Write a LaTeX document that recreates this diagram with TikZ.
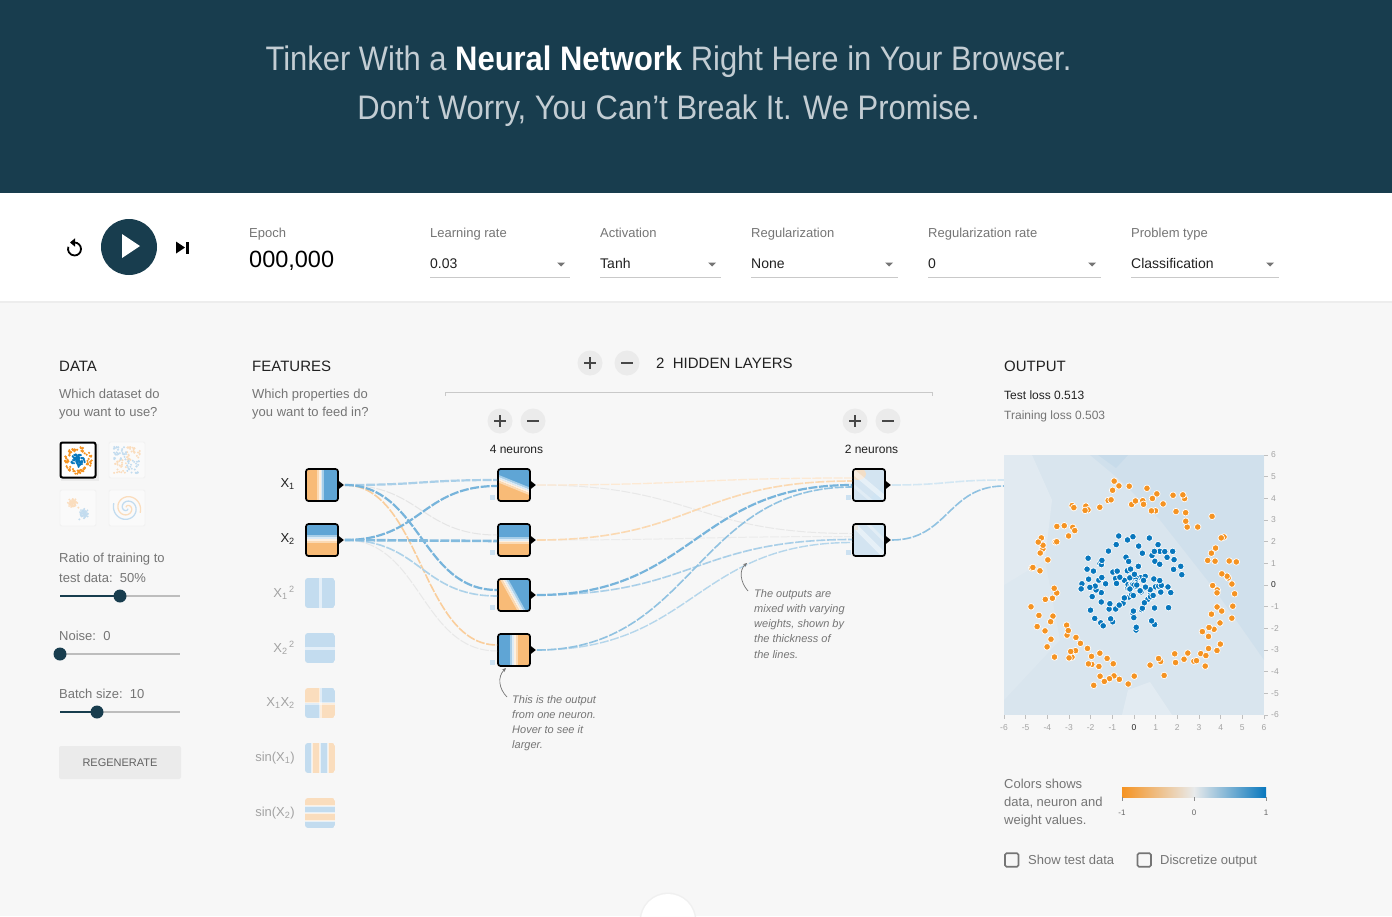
\documentclass[tikz,border=0pt]{standalone}
\usepackage{fontspec}
\setmainfont{Liberation Sans}
\newfontfamily\hdrfont[FakeStretch=0.91]{Liberation Sans}
\usetikzlibrary{arrows.meta}
\definecolor{hdrbg}{HTML}{183D4E}
\definecolor{hdrtxt}{HTML}{C3CDD3}
\definecolor{pagebg}{HTML}{F7F7F7}
\definecolor{tdark}{HTML}{212121}
\definecolor{tgrey}{HTML}{757575}
\definecolor{tfaint}{HTML}{A3A3A3}
\definecolor{trk}{HTML}{BDBDBD}
\definecolor{uline}{HTML}{C9C9C9}
\definecolor{btn}{HTML}{EBEBEB}
\definecolor{dor}{HTML}{F59322}
\definecolor{dbl}{HTML}{0877BD}
\definecolor{nor}{HTML}{F8BB77}
\definecolor{nbl}{HTML}{5FA5D5}
\definecolor{por}{HTML}{FADDBD}
\definecolor{pbl}{HTML}{C3DCEF}
\definecolor{plotbg}{HTML}{D9E5EE}
\definecolor{hid}{HTML}{D3E4F1}
\definecolor{midc}{HTML}{E8EAEB}

\newcommand\fsz[1]{\fontsize{#1}{#1}\selectfont}
% cx, cy, angle (visual ccw), offset, colour on upper side, colour on lower side
\newcommand\bandbox[6]{%
  \begin{scope}
    \clip[rounded corners=2.5pt] ({#1-16},{#2-16}) rectangle ({#1+16},{#2+16});
    \begin{scope}[shift={(#1,#2)},rotate=#3,shift={(0,#4)}]
      \fill[#5] (-40,-40) rectangle (40,0);
      \fill[#6] (-40,0) rectangle (40,40);
      \fill[#5!55!white] (-40,-3.6) rectangle (40,-1.8);
      \fill[#5!22!white] (-40,-1.8) rectangle (40,0);
      \fill[#6!22!white] (-40,0) rectangle (40,1.8);
      \fill[#6!55!white] (-40,1.8) rectangle (40,3.6);
    \end{scope}
  \end{scope}}
\newcommand\outtri[1]{\fill[black] (#1.east) ++(0,-4) -- ++(5,4) -- ++(-5,4) -- cycle;}
\newcommand\lnk[5]{\draw[link,draw=#1,line width=#2pt] #3 .. controls +(#4,0) and +(-#4,0) .. #5;}

\tikzset{
  txt/.style={inner sep=0pt, anchor=base west},
  neuron/.style={draw=black, line width=1.7pt, rounded corners=2.5pt, minimum size=32pt, inner sep=0pt},
  feat/.style={minimum size=30pt, inner sep=0pt},
  link/.style={dash pattern=on 9pt off 1.6pt},
  pm/.style={circle, fill=btn, minimum size=25pt, inner sep=0pt},
  pmline/.style={draw=black!72, line width=1.6pt},
  knob/.style={circle, fill=hdrbg, minimum size=13pt, inner sep=0pt},
  thumb/.style={draw=black!5, line width=0.8pt, fill=black!2, rounded corners=2pt, minimum size=36pt, inner sep=0pt},
  bias/.style={fill=pbl!85!white, minimum size=5pt, inner sep=0pt},
  annot/.style={txt, font={\fsz{11}\itshape}, text=tgrey},
  arr/.style={draw=tgrey, line width=0.7pt, -{Stealth[length=4pt,width=3.5pt]}},
  dot/.style={draw=white, line width=0.7pt},
}

\begin{document}
\begin{tikzpicture}[x=1pt,y=-1pt]
\useasboundingbox (0,0) rectangle (1392,916);
\fill[pagebg] (0,0) rectangle (1392,916);
\fill[hdrbg] (0,0) rectangle (1392,193);
\fill[white] (0,193) rectangle (1392,301);
\fill[black!7] (0,301) rectangle (1392,303);
\fill[black!3] (0,303) rectangle (1392,305);

% ---------------- header
\node[anchor=base, inner sep=0pt, text=hdrtxt, font={\hdrfont\fsz{34}}] (title1) at (668.5,70) {Tinker With a \textcolor{white}{\textbf{Neural Network}} Right Here in Your Browser.};
\node[anchor=base, inner sep=0pt, text=hdrtxt, font={\hdrfont\fsz{34}}] (title2) at (668.5,119) {Don’t Worry, You Can’t Break It. We Promise.};

% ---------------- controls
\draw[line width=1.8pt] (74.5,242.5) arc[start angle=-90, end angle=200, radius=6.5];
\fill (70,242.5) -- (75,238.3) -- (75,246.7) -- cycle;
\node[circle, fill=hdrbg, minimum size=56pt, inner sep=0pt] (play) at (129,247) {};
\fill[white] (122,234) -- (140,246) -- (122,258) -- cycle;
\fill (176,241.5) -- (185,247.5) -- (176,253.5) -- cycle;
\fill (185.5,241.5) rectangle (188.5,253.5);
\node[txt, text=tgrey, font={\fsz{13}}] (ep) at (249,237) {Epoch};
\node[txt, text=black, font={\fsz{23.5}}] (epv) at (249,267) {000,000};
\foreach \xa/\xb/\lab/\val [count=\i] in {430/570/Learning rate/0.03, 600/721/Activation/Tanh, 751/898/Regularization/None, 928/1101/Regularization rate/0, 1131/1279/Problem type/Classification}{
  \node[txt, text=tgrey, font={\fsz{13}}] (ddl\i) at (\xa,237) {\lab};
  \node[txt, text=tdark, font={\fsz{14}}] (ddv\i) at (\xa,268) {\val};
  \draw[uline, line width=1pt] (\xa,277.5) -- (\xb,277.5);
  \fill[tgrey] (\xb-13,262.5) -- (\xb-5,262.5) -- (\xb-9,266.5) -- cycle;
}

% ---------------- data panel
\node[txt, font={\fsz{15}}, text=tdark] (datah) at (59,371) {DATA};
\node[txt, font={\fsz{13}}, text=tgrey] (datad1) at (59,398) {Which dataset do};
\node[txt, font={\fsz{13}}, text=tgrey] (datad2) at (59,416) {you want to use?};
\node[thumb] (ds2) at (127,460) {};
\node[thumb] (ds3) at (78,508) {};
\node[thumb] (ds4) at (127,508) {};
\fill[black!8] (61,444) rectangle (99,481);
\node[draw=black, line width=2pt, fill=white, rounded corners=2pt, minimum size=35pt, inner sep=0pt] (ds1) at (78,460) {};
\pgfmathsetseed{11}
\foreach \k in {1,...,80}{\pgfmathsetmacro\rr{9.5+4.5*rnd}\pgfmathsetmacro\aa{360*rnd}\fill[dor] ({78+\rr*cos(\aa)},{460+\rr*sin(\aa)}) circle (1.2);}
\foreach \k in {1,...,70}{\pgfmathsetmacro\rr{7*rnd}\pgfmathsetmacro\aa{360*rnd}\fill[dbl] ({78+\rr*cos(\aa)},{460+\rr*sin(\aa)}) circle (1.2);}
\foreach \k in {1,...,110}{\pgfmathsetmacro\dx{26*rnd-13}\pgfmathsetmacro\dy{26*rnd-13}\pgfmathtruncatemacro\cc{(\dx*\dy>0)}\ifnum\cc=1\def\col{pbl}\else\def\col{por}\fi\fill[\col] ({127+\dx},{460+\dy}) circle (1.1);}
\foreach \k in {1,...,45}{\pgfmathsetmacro\dx{(rnd+rnd+rnd-1.5)*4.5}\pgfmathsetmacro\dy{(rnd+rnd+rnd-1.5)*4.5}\fill[por] ({73+\dx},{503+\dy}) circle (1.1);\fill[pbl] ({84-\dy},{514+\dx}) circle (1.1);}
\draw[pbl, line width=1.3pt] plot[domain=40:560, samples=70] ({127+\x/560*14*cos(\x)},{508+\x/560*14*sin(\x)});
\draw[por, line width=1.3pt] plot[domain=40:560, samples=70] ({127-\x/560*14*cos(\x)},{508-\x/560*14*sin(\x)});

\node[txt, font={\fsz{13}}, text=tgrey] (rat1) at (59,562) {Ratio of training to};
\node[txt, font={\fsz{13}}, text=tgrey] (rat2) at (59,582) {test data:\ \ 50\%};
\coordinate (s1a) at (60,596); \coordinate (s1k) at (120,596); \coordinate (s1b) at (180,596);
\draw[trk, line width=2pt] (s1k) -- (s1b);
\draw[hdrbg, line width=2.5pt] (s1a) -- (s1k);
\node[knob] (k1) at (s1k) {};
\node[txt, font={\fsz{13}}, text=tgrey] (noi) at (59,640) {Noise:\ \ 0};
\coordinate (s2a) at (60,654); \coordinate (s2b) at (180,654);
\draw[trk, line width=2pt] (s2a) -- (s2b);
\node[knob] (k2) at (s2a) {};
\node[txt, font={\fsz{13}}, text=tgrey] (bat) at (59,698) {Batch size:\ \ 10};
\coordinate (s3a) at (60,712); \coordinate (s3k) at (97,712); \coordinate (s3b) at (180,712);
\draw[trk, line width=2pt] (s3k) -- (s3b);
\draw[hdrbg, line width=2.5pt] (s3a) -- (s3k);
\node[knob] (k3) at (s3k) {};
\node[fill=btn, rounded corners=2pt, minimum width=122pt, minimum height=33pt, inner sep=0pt, font={\fsz{11}}, text=black!62] (regen) at (120,762.5) {REGENERATE};

% ---------------- features
\node[txt, font={\fsz{15}}, text=tdark] (feath) at (252,371) {FEATURES};
\node[txt, font={\fsz{13}}, text=tgrey] (featd1) at (252,398) {Which properties do};
\node[txt, font={\fsz{13}}, text=tgrey] (featd2) at (252,416) {you want to feed in?};

\bandbox{322}{485}{-90}{1.5}{nbl}{nor}
\bandbox{322}{540}{0}{-1}{nbl}{nor}
\node[neuron] (x1) at (322,485) {};
\node[neuron] (x2) at (322,540) {};
\outtri{x1} \outtri{x2}
\node[anchor=base east, inner sep=0pt, font={\fsz{13}}, text=tdark] (lx1) at (295,487) {X\textsubscript{1}};
\node[anchor=base east, inner sep=0pt, font={\fsz{13}}, text=tdark] (lx2) at (295,542) {X\textsubscript{2}};
\node[anchor=base east, inner sep=0pt, font={\fsz{13}}, text=tfaint] (lx3) at (295,597) {X\textsubscript{1}\textsuperscript{\,2}};
\node[anchor=base east, inner sep=0pt, font={\fsz{13}}, text=tfaint] (lx4) at (295,652) {X\textsubscript{2}\textsuperscript{\,2}};
\node[anchor=base east, inner sep=0pt, font={\fsz{13}}, text=tfaint] (lx5) at (295,706) {X\textsubscript{1}X\textsubscript{2}};
\node[anchor=base east, inner sep=0pt, font={\fsz{13}}, text=tfaint] (lx6) at (295,761) {sin(X\textsubscript{1})};
\node[anchor=base east, inner sep=0pt, font={\fsz{13}}, text=tfaint] (lx7) at (295,816) {sin(X\textsubscript{2})};

% faded feature thumbnails
\begin{scope}\clip[rounded corners=3pt] (305,578) rectangle (335,608);
  \fill[pbl] (305,578) rectangle (335,608);
  \fill[pbl!45!white] (318.5,578) rectangle (321.5,608);
\end{scope}
\begin{scope}\clip[rounded corners=3pt] (305,633) rectangle (335,663);
  \fill[pbl] (305,633) rectangle (335,663);
  \fill[pbl!45!white] (305,646.5) rectangle (335,649.5);
\end{scope}
\begin{scope}\clip[rounded corners=3pt] (305,688) rectangle (335,718);
  \fill[por] (305,688) rectangle (320,703);
  \fill[pbl] (320,688) rectangle (335,703);
  \fill[pbl] (305,703) rectangle (320,718);
  \fill[por] (320,703) rectangle (335,718);
  \fill[white,opacity=0.5] (318.5,688) rectangle (321.5,718);
  \fill[white,opacity=0.5] (305,701.5) rectangle (335,704.5);
\end{scope}
\begin{scope}\clip[rounded corners=3pt] (305,743) rectangle (335,773);
  \fill[pbl] (305,743) rectangle (312,773);
  \fill[por] (312,743) rectangle (320,773);
  \fill[pbl] (320,743) rectangle (328,773);
  \fill[por] (328,743) rectangle (335,773);
  \foreach \sx in {312,320,328}{\fill[white,opacity=0.6] (\sx-1.3,743) rectangle (\sx+1.3,773);}
\end{scope}
\begin{scope}\clip[rounded corners=3pt] (305,798) rectangle (335,828);
  \fill[por] (305,798) rectangle (335,806);
  \fill[pbl] (305,806) rectangle (335,813);
  \fill[por] (305,813) rectangle (335,821);
  \fill[pbl] (305,821) rectangle (335,828);
  \foreach \sy in {806,813,821}{\fill[white,opacity=0.6] (305,\sy-1.3) rectangle (335,\sy+1.3);}
\end{scope}
\node[feat] (fx3) at (320,593) {};
\node[feat] (fx4) at (320,648) {};
\node[feat] (fx5) at (320,703) {};
\node[feat] (fx6) at (320,758) {};
\node[feat] (fx7) at (320,813) {};

% ---------------- hidden layers header
\node[pm] (addl) at (590,363) {};
\node[pm] (reml) at (627,363) {};
\draw[pmline] (addl.center) ++(-6,0) -- ++(12,0) (addl.center) ++(0,-6) -- ++(0,12);
\draw[pmline] (reml.center) ++(-6,0) -- ++(12,0);
\node[txt, font={\fsz{15}}, text=tdark] (hl) at (656,368.5) {2\ \ HIDDEN LAYERS};
\draw[uline, line width=1pt] (445,396) -- (445,392) -- (932,392) -- (932,396);
\foreach \px/\nm in {500/a1, 855/a2}{
  \node[pm] (add\nm) at (\px,421) {};
  \node[pm] (rem\nm) at (\px+33,421) {};
  \draw[pmline] (add\nm.center) ++(-6,0) -- ++(12,0) (add\nm.center) ++(0,-6) -- ++(0,12);
  \draw[pmline] (rem\nm.center) ++(-6,0) -- ++(12,0);
}
\node[anchor=base, inner sep=0pt, font={\fsz{12}}, text=tdark] (l1n) at (516.5,453.5) {4 neurons};
\node[anchor=base, inner sep=0pt, font={\fsz{12}}, text=tdark] (l2n) at (871.5,453.5) {2 neurons};

% ---------------- hidden neurons
\bandbox{514}{485}{-22}{0}{nbl}{nor}
\bandbox{514}{540}{0}{0.5}{nbl}{nor}
\bandbox{514}{595}{-61}{1}{nbl}{nor}
\bandbox{514}{650}{-90}{0}{nor}{nbl}
\begin{scope}\clip[rounded corners=2.5pt] (853,469) rectangle (885,501);
  \fill[hid] (853,469) rectangle (885,501);
  \fill[por!80!hid] (858,474) ellipse (8 and 6);
  \fill[nbl!30!white] (885,482) -- (885,501) -- (868,501) -- cycle;
  \begin{scope}[shift={(869,485)},rotate=-40]
    \fill[white,opacity=0.45] (-30,-2.5) rectangle (30,2.5);
    \fill[white,opacity=0.3] (-30,9) rectangle (30,12);
  \end{scope}
\end{scope}
\begin{scope}\clip[rounded corners=2.5pt] (853,524) rectangle (885,556);
  \fill[hid] (853,524) rectangle (885,556);
  \fill[nbl!28!white] (870,524) -- (885,524) -- (885,540) -- cycle;
  \begin{scope}[shift={(869,540)},rotate=-45]
    \fill[white,opacity=0.45] (-30,-2.5) rectangle (30,2.5);
    \fill[white,opacity=0.35] (-30,-12) rectangle (30,-9);
  \end{scope}
  \fill[por!50!hid,opacity=0.7] (853,524) rectangle (858,530);
\end{scope}
\foreach \yy [count=\i] in {485,540,595,650}{
  \node[neuron] (n\i) at (514,\yy) {};
  \outtri{n\i}
  \node[bias] (bn\i) at (492.5,\yy+12.5) {};
}
\foreach \yy [count=\i] in {485,540}{
  \node[neuron] (m\i) at (869,\yy) {};
  \outtri{m\i}
  \node[bias] (bm\i) at (848.5,\yy+12.5) {};
}

% ---------------- links input -> layer 1
\lnk{black!9}{1.0}{([xshift=6pt]x2.east)}{76}{([yshift=-1pt]n4.west)}
\lnk{black!10}{1.0}{([xshift=6pt]x1.east)}{76}{([yshift=5pt]n2.west)}
\lnk{dor!45!white}{1.6}{([xshift=6pt]x1.east)}{76}{([yshift=5pt]n4.west)}
\lnk{dbl!33!white}{1.6}{([xshift=6pt]x2.east)}{76}{([yshift=-1pt]n3.west)}
\lnk{dbl!35!white}{2.2}{([xshift=6pt]x1.east)}{76}{([yshift=5pt]n1.west)}
\lnk{dbl!55!white}{2.2}{([xshift=6pt]x1.east)}{76}{([yshift=5pt]n3.west)}
\lnk{dbl!55!white}{2.2}{([xshift=6pt]x2.east)}{76}{([yshift=-1pt]n1.west)}
\lnk{dbl!50!white}{2.6}{([xshift=6pt]x2.east)}{76}{([yshift=-1pt]n2.west)}

% ---------------- links layer 1 -> layer 2
\lnk{black!9}{1.0}{([xshift=6pt]n1.east)}{157}{([yshift=6.5pt]m2.west)}
\lnk{black!8}{1.0}{([xshift=6pt]n2.east)}{157}{([yshift=3.5pt]m2.west)}
\lnk{dor!20!white}{1.3}{([xshift=6pt]n1.east)}{157}{([yshift=7pt]m1.west)}
\lnk{dor!35!white}{1.6}{([xshift=6pt]n2.east)}{157}{([yshift=4pt]m1.west)}
\lnk{dbl!30!white}{1.4}{([xshift=6pt]n4.east)}{157}{([yshift=-2.5pt]m2.west)}
\lnk{dbl!35!white}{1.6}{([xshift=6pt]n3.east)}{157}{([yshift=0.5pt]m2.west)}
\lnk{dbl!45!white}{1.6}{([xshift=6pt]n4.east)}{157}{([yshift=-2pt]m1.west)}
\lnk{dbl!55!white}{2.2}{([xshift=6pt]n3.east)}{157}{([yshift=0pt]m1.west)}

% ---------------- links layer 2 -> output
\coordinate (oin1) at (1004,480);
\coordinate (oin2) at (1004,486);
\lnk{dbl!18!white}{1.6}{([xshift=6pt]m1.east)}{56}{(oin1)}
\lnk{dbl!45!white}{1.6}{([xshift=6pt]m2.east)}{56}{(oin2)}

% ---------------- annotations
\foreach \t [count=\i] in {This is the output, from one neuron., Hover to see it, larger.}{
  \node[annot] (an\i) at (512,{703.3+15*(\i-1)}) {\t};
}
\coordinate (ans) at (507,697);
\coordinate (ane) at (506,668);
\draw[arr] (ans) .. controls (499,689) and (497,677) .. (ane);
\foreach \t [count=\i] in {The outputs are, mixed with varying, {weights, shown by}, the thickness of, the lines.}{
  \node[annot] (bn\i t) at (754,{597.3+15.2*(\i-1)}) {\t};
}
\coordinate (bns) at (748,591);
\coordinate (bne) at (747,563);
\draw[arr] (bns) .. controls (740,582) and (739,570) .. (bne);

% ---------------- output panel
\node[txt, font={\fsz{15}}, text=tdark] (outh) at (1004,371) {OUTPUT};
\node[txt, font={\fsz{12}}, text=tdark] (tl) at (1004,399) {Test loss 0.513};
\node[txt, font={\fsz{12}}, text=tgrey] (trl) at (1004,419) {Training loss 0.503};
\node[fill=plotbg, minimum size=260pt, inner sep=0pt] (plot) at (1134,585) {};
\begin{scope}
  \clip (1004,455) rectangle (1264,715);
  \fill[white,opacity=0.22] (1004,455) -- (1032,455) -- (1052,500) -- (1045,560) -- (1004,585) -- cycle;
  \fill[white,opacity=0.12] (1004,585) -- (1045,560) -- (1060,640) -- (1004,700) -- cycle;
  \fill[white,opacity=0.25] (1122,715) -- (1128,690) -- (1150,682) -- (1172,715) -- cycle;
  \fill[nbl,opacity=0.07] (1090,455) -- (1264,455) -- (1264,660) -- (1215,590) -- (1160,520) -- (1120,480) -- cycle;
  \fill[nbl,opacity=0.08] (1098,455) -- (1128,455) -- (1116,468) -- cycle;
  \pgfmathsetseed{5}
  \foreach \k in {1,...,128}{
    \pgfmathsetmacro\rr{3.5+1.5*rnd}\pgfmathsetmacro\aa{360*rnd}
    \filldraw[dot, fill=dor] ({1134+21.667*\rr*cos(\aa)},{585-21.667*\rr*sin(\aa)}) circle (3.3);
  }
  \foreach \k in {1,...,124}{
    \pgfmathsetmacro\rr{2.5*rnd}\pgfmathsetmacro\aa{360*rnd}
    \filldraw[dot, fill=dbl] ({1134+21.667*\rr*cos(\aa)},{585-21.667*\rr*sin(\aa)}) circle (3.3);
  }
\end{scope}
\foreach \v [count=\i] in {-6,...,6}{
  \pgfmathsetmacro\yy{585-21.667*\v}
  \pgfmathsetmacro\xx{1134+21.667*\v}
  \ifnum\v=0 \def\tc{black!85}\else\def\tc{tfaint}\fi
  \draw[black!25, line width=0.6pt] (1264,\yy) -- (1268,\yy);
  \draw[black!25, line width=0.6pt] (\xx,715) -- (\xx,719);
  \node[anchor=west, inner sep=0pt, font={\fsz{8.5}}, text=\tc] (ya\i) at (1271,\yy) {\v};
  \node[anchor=base, inner sep=0pt, font={\fsz{8.5}}, text=\tc] (xa\i) at (\xx,730.5) {\v};
}

% ---------------- legend
\node[txt, font={\fsz{13}}, text=tgrey] (lg1) at (1004,788) {Colors shows};
\node[txt, font={\fsz{13}}, text=tgrey] (lg2) at (1004,806) {data, neuron and};
\node[txt, font={\fsz{13}}, text=tgrey] (lg3) at (1004,824) {weight values.};
\node[minimum width=144pt, minimum height=10pt, inner sep=0pt, left color=dor, right color=dbl, middle color=midc] (cbar) at (1194,792) {};
\foreach \tx/\tl [count=\i] in {1122/-1, 1194/0, 1266/1}{
  \draw[black!45, line width=0.7pt] (\tx,797) -- (\tx,801);
  \node[anchor=base, inner sep=0pt, font={\fsz{8}}, text=black!60] (cl\i) at (\tx,815) {\tl};
}
\node[draw=tgrey, line width=1.6pt, rounded corners=1.5pt, minimum size=13.5pt, inner sep=0pt] (cb1) at (1011.7,860) {};
\node[txt, font={\fsz{13}}, text=tgrey] (cbl1) at (1028,864) {Show test data};
\node[draw=tgrey, line width=1.6pt, rounded corners=1.5pt, minimum size=13.5pt, inner sep=0pt] (cb2) at (1144.2,860) {};
\node[txt, font={\fsz{13}}, text=tgrey] (cbl2) at (1160,864) {Discretize output};

% ---------------- bottom round button
\fill[black!6] (668,921) circle (28.5);
\fill[white] (668,921) circle (27);
\end{tikzpicture}
\end{document}
